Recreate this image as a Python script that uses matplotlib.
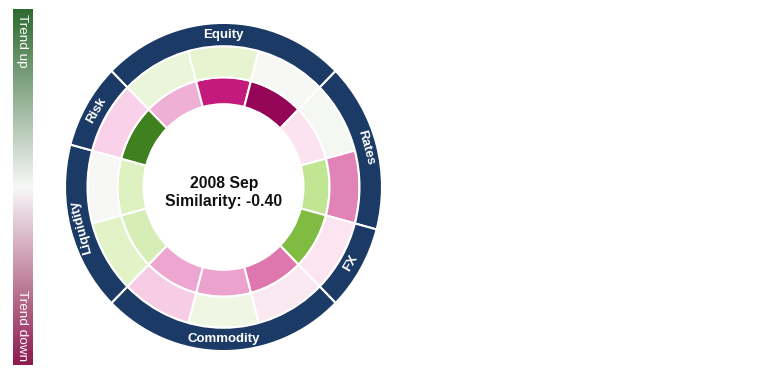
import numpy as np
import matplotlib
matplotlib.use('Agg')
import matplotlib.pyplot as plt
from matplotlib.colors import LinearSegmentedColormap

# ---- data ----
categories = ['Equity', 'Rates', 'FX', 'Commodity', 'Liquidity', 'Risk']
category_sizes = [3, 2, 1, 3, 2, 1]
# sub-indicator trend values (clockwise, starting at the left edge of Equity)
inner_values = [-0.42, -0.80, -0.97, -0.18, 0.36, 0.60, -0.60, -0.46, -0.45, 0.27, 0.24, 0.87]
middle_values = [0.15, 0.20, 0.00, 0.02, -0.56, -0.15, -0.12, 0.10, -0.29, 0.22, 0.00, -0.27]
date_label = '2008 Sep'
similarity = -0.40
legend_labels = ['Trend up', 'Trend down']

W, H = 770, 374
fig = plt.figure(figsize=(W / 100, H / 100), dpi=100)

cx, cy = 223.5, 187
rmax = 160
stretch = 1.035
ax = fig.add_axes([(cx - rmax) / W, (H - cy - rmax * stretch) / H,
                   2 * rmax / W, 2 * rmax * stretch / H], projection='polar')
ax.set_aspect('auto')
ax.set_theta_zero_location('N')
ax.set_theta_direction(-1)
ax.set_ylim(0, rmax)
ax.set_axis_off()

cmap = plt.get_cmap('PiYG')
n = len(inner_values)
seg = 360 / n
start = -45
theta = np.deg2rad(start + seg * (np.arange(n) + 0.5))
width = np.deg2rad(seg)
ax.bar(theta, 26, width=width, bottom=80, color=cmap((np.array(inner_values) + 1) / 2),
       edgecolor='white', linewidth=1.5)
ax.bar(theta, 30, width=width, bottom=106, color=cmap((np.array(middle_values) + 1) / 2),
       edgecolor='white', linewidth=1.5)

edges = start + seg * np.concatenate([[0], np.cumsum(category_sizes)])
cat_mid = (edges[:-1] + edges[1:]) / 2
cat_w = np.diff(edges)
ax.bar(np.deg2rad(cat_mid), 22.5, width=np.deg2rad(cat_w), bottom=136,
       color='#1b3a66', edgecolor='white', linewidth=1.5)
for name, m in zip(categories, cat_mid):
    rot = (-m + 180) % 360 - 180
    if rot < -90:
        rot += 180
    ax.text(np.deg2rad(m), 147, name, rotation=rot, rotation_mode='anchor',
            ha='center', va='center', color='white', fontsize=9.5,
            fontweight='bold', family='Liberation Sans')

fig.text(224 / W, 1 - 188 / H, date_label, ha='center', va='baseline',
         fontsize=11.3, fontweight='bold', color='#111111', family='Liberation Sans')
fig.text(224 / W, 1 - 206 / H, f'Similarity: {similarity:.2f}', ha='center', va='baseline',
         fontsize=11.3, fontweight='bold', color='#111111', family='Liberation Sans')

# ---- trend colour bar ----
cax = fig.add_axes([13 / W, (H - 365) / H, 20 / W, 356 / H])
grad = np.linspace(1, -1, 256).reshape(-1, 1)
bar_cmap = LinearSegmentedColormap.from_list('trend', ['#8e1a4e', '#f8f8f8', '#2e6a30'])
cax.imshow(grad, aspect='auto', cmap=bar_cmap, vmin=-1, vmax=1, extent=[0, 1, 0, 1])
cax.set_axis_off()
fig.text(22 / W, 1 - 14 / H, legend_labels[0], rotation=-90, ha='center', va='top',
         color='white', fontsize=9.7, family='Liberation Sans')
fig.text(22 / W, 1 - 361 / H, legend_labels[1], rotation=-90, ha='center', va='bottom',
         color='white', fontsize=9.7, family='Liberation Sans')

fig.savefig('out.png', dpi=100)
